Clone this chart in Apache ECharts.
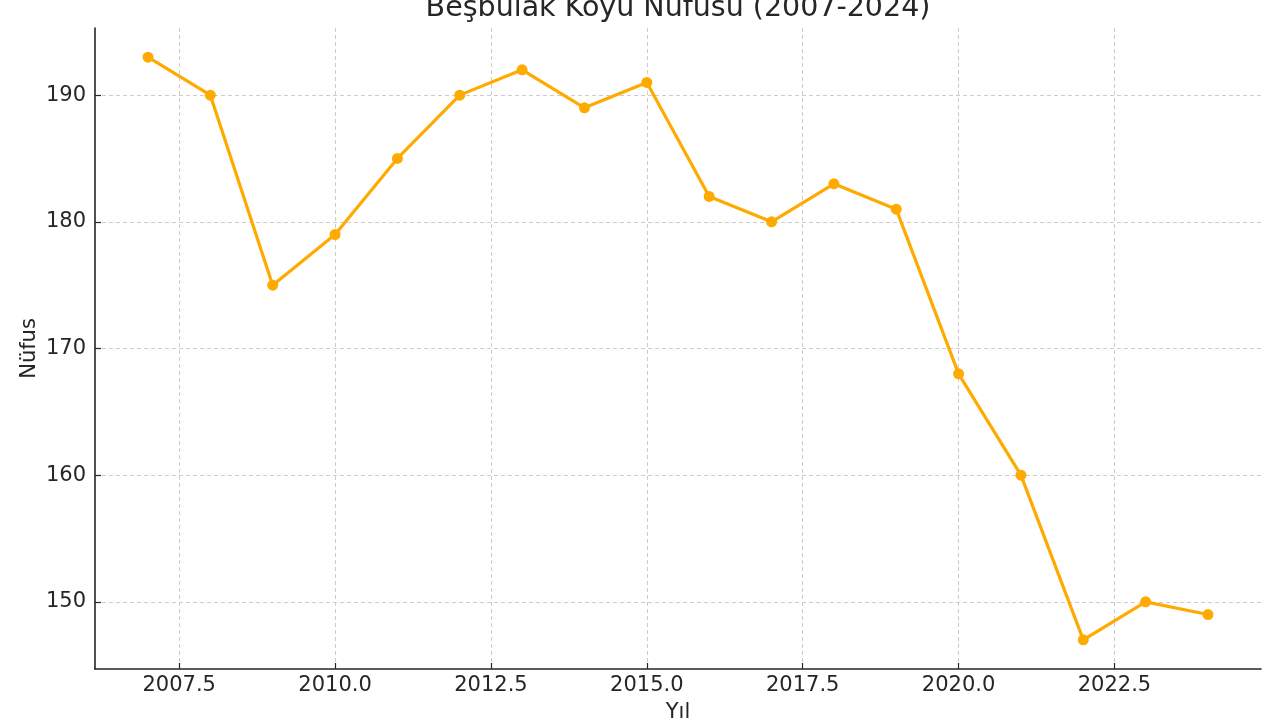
<!DOCTYPE html>
<html>
<head>
<meta charset="utf-8">
<script src="https://cdn.jsdelivr.net/npm/echarts@6/dist/echarts.min.js"></script>
<style>
  html, body { margin: 0; padding: 0; background: #fff; }
  #chart { width: 1280px; height: 720px; }
</style>
</head>
<body>
<div id="chart"></div>
<script>
// yearly population of the village
const years = [2007, 2008, 2009, 2010, 2011, 2012, 2013, 2014, 2015, 2016, 2017, 2018, 2019, 2020, 2021, 2022, 2023, 2024];
const population = [193, 190, 175, 179, 185, 190, 192, 189, 191, 182, 180, 183, 181, 168, 160, 147, 150, 149];
const xTicks = [2007.5, 2010.0, 2012.5, 2015.0, 2017.5, 2020.0, 2022.5];
const yTicks = [150, 160, 170, 180, 190];

const font = 'DejaVu Sans';
const textColor = '#262626';

const chart = echarts.init(document.getElementById('chart'));

chart.setOption({
  animation: false,
  backgroundColor: '#ffffff',
  title: {
    text: 'Beşbulak Köyü Nüfusu (2007-2024)',
    left: 673,
    textAlign: 'center',
    top: -11,
    textStyle: { fontFamily: font, fontSize: 28.5, fontWeight: 'normal', color: textColor }
  },
  grid: { left: 95, top: 28, width: 1166, height: 641, containLabel: false, outerBoundsMode: 'none' },
  xAxis: {
    type: 'value',
    min: 2006.15,
    max: 2024.85,
    name: 'Yıl',
    nameLocation: 'middle',
    nameGap: 33,
    nameMoveOverlap: false,
    nameTextStyle: { fontFamily: font, fontSize: 21, color: textColor },
    axisLine: { show: true, lineStyle: { color: '#262626', width: 1.6 } },
    axisTick: { show: true, inside: true, length: 6, customValues: xTicks, lineStyle: { color: '#262626', width: 1.2 } },
    axisLabel: {
      customValues: xTicks,
      margin: 6,
      fontFamily: font, fontSize: 21, color: textColor,
      formatter: v => v.toFixed(1)
    },
    splitLine: { show: true, lineStyle: { color: '#cccccc', type: [4, 3], width: 1 } }
  },
  yAxis: {
    type: 'value',
    min: 144.7,
    max: 195.3,
    name: 'Nüfus',
    nameLocation: 'middle',
    nameGap: 55,
    nameMoveOverlap: false,
    nameTextStyle: { fontFamily: font, fontSize: 21, color: textColor },
    axisLine: { show: true, lineStyle: { color: '#262626', width: 1.6 } },
    axisTick: { show: true, inside: true, length: 6, customValues: yTicks, lineStyle: { color: '#262626', width: 1.2 } },
    axisLabel: {
      customValues: yTicks,
      margin: 9,
      fontFamily: font, fontSize: 21, color: textColor
    },
    splitLine: { show: true, lineStyle: { color: '#cccccc', type: [4, 3], width: 1 } }
  },
  series: [{
    type: 'line',
    data: years.map((y, i) => [y, population[i]]),
    symbol: 'circle',
    symbolSize: 11,
    itemStyle: { color: '#FFAA00' },
    lineStyle: { color: '#FFAA00', width: 3.2 }
  }]
});
</script>
</body>
</html>
